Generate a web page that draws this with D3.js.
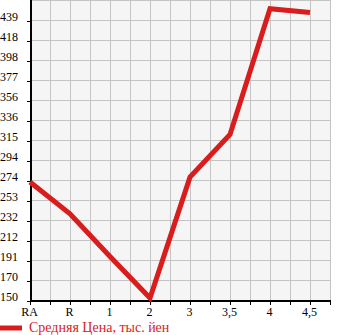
<!DOCTYPE html>
<html><head><meta charset="utf-8">
<script src="https://cdn.jsdelivr.net/npm/d3@7"></script>
<style>
html,body{margin:0;padding:0;background:#fff;}
svg{display:block;}
</style></head>
<body>
<svg id="chart" width="345" height="335"></svg>
<script>
const categories = ["RA","R","1","2","3","3,5","4","4,5"];
const seriesName = "Средняя Цена, тыс. йен";
const values = [273, 240, 196, 153, 278, 322, 452, 448];
const yTickLabels = ["150","170","191","212","232","253","274","294","315","336","356","377","398","418","439"];
const yMin = 150, yMax = 460;

const svg = d3.select("#chart");
const pL = 31, pR = 331, pT = 1, pB = 301;

const x = d3.scaleLinear().domain([0, 7.5]).range([pL - 1, pR - 1]);
const y = d3.scaleLinear().domain([yMin, yMax]).range([pB, pT]);

// plot background
svg.append("rect").attr("x", pL).attr("y", pT).attr("width", pR - pL).attr("height", pB - pT).attr("fill", "#f5f5f5");

// grid
const gridX = d3.range(0.5, 7.51, 0.5);
svg.append("g").selectAll("line").data(gridX).join("line")
  .attr("x1", d => x(d) + 0.5).attr("x2", d => x(d) + 0.5)
  .attr("y1", pT).attr("y2", pB)
  .attr("stroke", "#c4c4c4").attr("stroke-width", 1);
const gridYVals = d3.range(0, 16).map(i => yMin + i * (yMax - yMin) / 15);
svg.append("g").selectAll("line").data(gridYVals.slice(1)).join("line")
  .attr("x1", pL).attr("x2", pR)
  .attr("y1", d => Math.round(y(d)) - 0.5).attr("y2", d => Math.round(y(d)) - 0.5)
  .attr("stroke", "#c4c4c4").attr("stroke-width", 1);

// y axis
const yAxis = d3.axisLeft(y)
  .tickValues(gridYVals.slice(0, 15))
  .tickSize(4)
  .tickFormat((d, i) => yTickLabels[i]);
const gy = svg.append("g").attr("transform", `translate(${pL},0)`).call(yAxis);
gy.select(".domain").remove();
gy.selectAll(".tick line").attr("stroke", "#000");
gy.selectAll(".tick text")
  .attr("x", -13).attr("dy", "-0.5")
  .attr("font-family", "Liberation Serif, serif").attr("font-size", 12)
  .attr("fill", "#000");

// x axis
const xAxis = d3.axisBottom(x)
  .tickValues(d3.range(0, 7.51, 0.5))
  .tickSize(4)
  .tickFormat(d => Number.isInteger(d) ? categories[d] : "");
const gx = svg.append("g").attr("transform", `translate(0,${pB})`).call(xAxis);
gx.select(".domain").remove();
gx.selectAll(".tick line").attr("stroke", "#000");
gx.selectAll(".tick text")
  .attr("x", -1).attr("y", 6).attr("dy", "0.71em")
  .attr("font-family", "Liberation Serif, serif").attr("font-size", 12)
  .attr("fill", "#000");

// axis lines
svg.append("line").attr("x1", pL).attr("x2", pL).attr("y1", 0).attr("y2", pB + 1)
  .attr("stroke", "#000").attr("stroke-width", 2);
svg.append("line").attr("x1", pL - 1).attr("x2", pR).attr("y1", pB).attr("y2", pB)
  .attr("stroke", "#000").attr("stroke-width", 2);

// data line
const line = d3.line().x((d, i) => x(i)).y(d => y(d));
svg.append("path").datum(values)
  .attr("d", line)
  .attr("fill", "none")
  .attr("stroke", "#d91c1c")
  .attr("stroke-width", 5)
  .attr("stroke-linejoin", "miter");

// legend
svg.append("line").attr("x1", 0).attr("x2", 22).attr("y1", 328).attr("y2", 328)
  .attr("stroke", "#d91c1c").attr("stroke-width", 5);
svg.append("text").attr("x", 29).attr("y", 332)
  .attr("font-family", "Liberation Serif, serif").attr("font-size", 14)
  .attr("fill", "#d91c1c").text(seriesName);
</script>
</body></html>
